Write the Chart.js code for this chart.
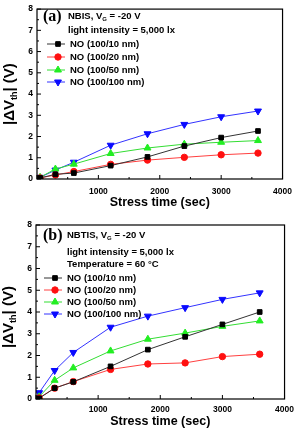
<!DOCTYPE html>
<html><head><meta charset="utf-8">
<script src="https://cdn.jsdelivr.net/npm/chart.js@4/dist/chart.umd.min.js"></script>
<style>
html,body{margin:0;padding:0;background:#fff;}
canvas{display:block;}
</style></head>
<body>
<canvas id="ca" width="300" height="212"></canvas>
<canvas id="cb" width="300" height="219"></canvas>
<script>
// ---- data ----
const times = [50, 300, 600, 1200, 1800, 2400, 3000, 3600];
const seriesLabels = ['NO (100/10 nm)', 'NO (100/20 nm)', 'NO (100/50 nm)', 'NO (100/100 nm)'];
// (a) NBIS
const a_10nm  = [0.05, 0.22, 0.28, 0.63, 1.04, 1.55, 1.95, 2.26];
const a_20nm  = [0.05, 0.19, 0.35, 0.69, 0.89, 1.02, 1.14, 1.22];
const a_50nm  = [0.08, 0.47, 0.70, 1.20, 1.46, 1.64, 1.73, 1.81];
const a_100nm = [0.08, 0.42, 0.79, 1.59, 2.13, 2.57, 2.93, 3.20];
// (b) NBTIS
const b_10nm  = [0.03, 0.50, 0.79, 1.50, 2.27, 2.86, 3.43, 4.00];
const b_20nm  = [0.05, 0.50, 0.80, 1.36, 1.61, 1.66, 1.95, 2.06];
const b_50nm  = [0.10, 0.86, 1.43, 2.21, 2.75, 3.03, 3.34, 3.59];
const b_100nm = [0.29, 1.31, 2.14, 3.30, 3.81, 4.20, 4.58, 4.88];
const xTicks = [1000, 2000, 3000, 4000];
const yTicks = [0, 1, 2, 3, 4, 5, 6, 7, 8];

const styles = [
  {color:'#000000', line:'#333333', pointStyle:'rect', radius:3.3, rotation:0},
  {color:'#ff1010', line:'#ff4040', pointStyle:'circle', radius:3.2, rotation:0},
  {color:'#22ee22', line:'#33dd33', pointStyle:'triangle', radius:4, rotation:0},
  {color:'#0a0aff', line:'#3333ff', pointStyle:'triangle', radius:4, rotation:180}
];

function makeDatasets(arrs){
  return arrs.map((d,i)=>({
    label: seriesLabels[i],
    data: times.map((t,j)=>({x:t, y:d[j]})),
    borderColor: styles[i].line,
    backgroundColor: styles[i].color,
    pointBorderColor: styles[i].color,
    pointBackgroundColor: styles[i].color,
    pointStyle: styles[i].pointStyle,
    pointRadius: styles[i].radius,
    pointRotation: styles[i].rotation,
    borderWidth: 1,
    tension: 0
  }));
}

const SANS = '"Liberation Sans", Arial, sans-serif';

function drawRich(ctx, parts, x, y, size){
  // parts: [text, isSub]
  let cx = x;
  parts.forEach(p=>{
    if(p[1]){
      ctx.font = 'bold ' + Math.round(size*0.6) + 'px ' + SANS;
      ctx.fillText(p[0], cx, y + size*0.3);
    } else {
      ctx.font = 'bold ' + size + 'px ' + SANS;
      ctx.fillText(p[0], cx, y);
    }
    cx += ctx.measureText(p[0]).width;
  });
  return cx - x;
}
function measureRich(ctx, parts, size){
  let w = 0;
  parts.forEach(p=>{
    ctx.font = 'bold ' + (p[1] ? Math.round(size*0.6) : size) + 'px ' + SANS;
    w += ctx.measureText(p[0]).width;
  });
  return w;
}

function makePlugin(cfg){
  return {
    id:'deco',
    afterDraw(chart){
      const ctx = chart.ctx, a = chart.chartArea;
      const xs = chart.scales.x, ys = chart.scales.y;
      ctx.save();
      // frame
      ctx.strokeStyle = '#000'; ctx.lineWidth = 1.2;
      ctx.strokeRect(a.left, a.top, a.right - a.left, a.bottom - a.top);
      // inward ticks
      ctx.lineWidth = 1;
      ctx.beginPath();
      for(let v=0; v<=8; v+=0.5){
        const py = ys.getPixelForValue(v);
        const len = (v % 1 === 0) ? 4 : 2;
        ctx.moveTo(a.left, py); ctx.lineTo(a.left + len, py);
      }
      for(let v=0; v<=4000; v+=500){
        const px = xs.getPixelForValue(v);
        const len = (v % 1000 === 0) ? 4 : 2;
        ctx.moveTo(px, a.bottom); ctx.lineTo(px, a.bottom - len);
      }
      ctx.stroke();
      ctx.fillStyle = '#000';
      ctx.textBaseline = 'middle';
      ctx.textAlign = 'left';
      // x title
      ctx.font = 'bold 12.5px ' + SANS;
      ctx.textAlign = 'center';
      ctx.fillText('Stress time (sec)', (a.left + a.right)/2, cfg.xTitleY);
      // y title rotated
      const yParts = [['|\u0394V', false], ['th', true], ['| (V)', false]];
      const ysz = 15;
      const tw = measureRich(ctx, yParts, ysz);
      ctx.save();
      ctx.translate(cfg.yTitleX, (a.top + a.bottom)/2 + cfg.yTitleShift);
      ctx.rotate(-Math.PI/2);
      ctx.textAlign = 'left';
      drawRich(ctx, yParts, -tw/2, 0, ysz);
      ctx.restore();
      // panel label
      ctx.textAlign = 'left';
      ctx.font = 'bold 16px "Liberation Serif", "Times New Roman", serif';
      ctx.fillText(cfg.panel, cfg.panelX, cfg.headerY[0] + 1);
      // header lines
      cfg.header.forEach((parts, i)=>{
        drawRich(ctx, parts, cfg.textX, cfg.headerY[i], 9.5);
      });
      // legend
      chart.data.datasets.forEach((ds, i)=>{
        const ly = cfg.legendY[i];
        ctx.strokeStyle = ds.borderColor; ctx.lineWidth = 1;
        ctx.beginPath(); ctx.moveTo(cfg.legX0, ly); ctx.lineTo(cfg.legX1, ly); ctx.stroke();
        ctx.fillStyle = ds.pointBackgroundColor; ctx.strokeStyle = ds.pointBorderColor;
        Chart.helpers.drawPoint(ctx, {pointStyle: ds.pointStyle, radius: ds.pointRadius, rotation: ds.pointRotation, borderWidth:1}, (cfg.legX0 + cfg.legX1)/2 + 2, ly);
        ctx.fillStyle = '#000';
        ctx.font = 'bold 9.5px ' + SANS;
        ctx.fillText(ds.label, cfg.legTextX, ly);
      });
      ctx.restore();
    }
  };
}

function makeChart(id, arrs, plotTop, plotLeft, bottomH, cfg){
  return new Chart(document.getElementById(id), {
    type:'line',
    data:{datasets: makeDatasets(arrs)},
    options:{
      responsive:false, animation:false,
      plugins:{legend:{display:false}, tooltip:{enabled:false}},
      layout:{padding:{top:plotTop, right:15, bottom:0, left:0}},
      scales:{
        x:{type:'linear', min:0, max:4000,
           afterFit(s){ s.height = bottomH; },
           afterBuildTicks(s){ s.ticks = [0].concat(xTicks).map(v=>({value:v})); },
           grid:{display:false, drawTicks:false}, border:{display:false},
           ticks:{padding:cfg.xTickPad, color:'#000', font:{family:SANS, size:8.5, weight:'bold'},
                  callback:(v)=> v === 0 ? '' : String(v)}},
        y:{type:'linear', min:0, max:8,
           afterFit(s){ s.width = plotLeft; },
           afterBuildTicks(s){ s.ticks = yTicks.map(v=>({value:v})); },
           grid:{display:false, drawTicks:false}, border:{display:false},
           ticks:{padding:4, color:'#000', font:{family:SANS, size:8.5, weight:'bold'}}}
      }
    },
    plugins:[makePlugin(cfg)]
  });
}

makeChart('ca', [a_10nm, a_20nm, a_50nm, a_100nm], 5, 37, 33, {
  panel:'(a)', panelX:43, textX:68, headerY:[16, 30],
  header:[ [['NBIS, V',false],['G',true],[' = -20 V',false]], [['light intensity = 5,000 lx',false]] ],
  legendY:[44, 57, 70, 82], legX0:47, legX1:65, legTextX:70,
  xTitleY:203, yTitleX:10, yTitleShift:0, xTickPad:8
});
makeChart('cb', [b_10nm, b_20nm, b_50nm, b_100nm], 13, 36, 32, {
  panel:'(b)', panelX:43, textX:67, headerY:[23, 40, 52],
  header:[ [['NBTIS, V',false],['G',true],[' = -20 V',false]], [['light intensity = 5,000 lx',false]], [['Temperature = 60 \u00B0C',false]] ],
  legendY:[66, 78, 90, 102], legX0:44, legX1:62, legTextX:67,
  xTitleY:210, yTitleX:9, yTitleShift:5, xTickPad:6
});
</script>
</body></html>
